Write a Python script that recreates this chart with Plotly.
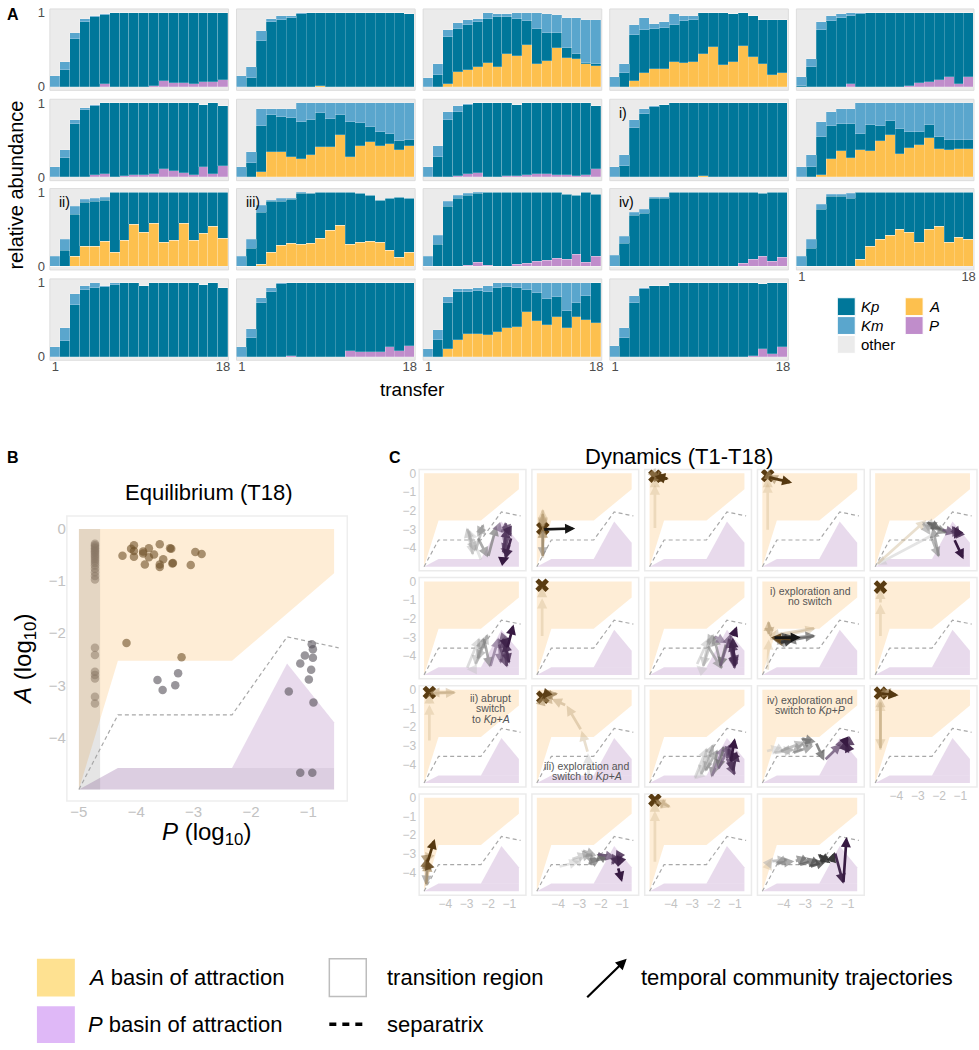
import plotly.graph_objects as go

W, H = 979, 1050
FONT = "Liberation Sans, Arial, Helvetica, sans-serif"

# ---------------- Panel A data: relative abundance per transfer ----------------
transfers = list(range(1, 19))
Z = [0, 0, 0, 0, 0, 0, 0, 0, 0, 0, 0, 0, 0, 0, 0, 0, 0, 0]

kp_01 = [0.00, 0.22, 0.65, 0.88, 0.94, 0.94, 1.00, 1.00, 1.00, 1.00, 0.99, 0.92, 0.95, 0.95, 0.96, 0.92, 0.93, 0.90]
km_01 = [0.15, 0.12, 0.08, 0.04, 0.02, 0.01, 0, 0, 0, 0, 0, 0, 0, 0, 0, 0, 0, 0]
a_01 = Z
p_01 = [0, 0, 0, 0, 0, 0.03, 0, 0, 0, 0, 0.01, 0.08, 0.05, 0.05, 0.04, 0.07, 0.06, 0.09]

kp_02 = [0.00, 0.12, 0.62, 0.87, 0.90, 0.93, 0.98, 1.00, 0.98, 1.00, 1.00, 1.00, 1.00, 0.99, 1.00, 0.99, 0.99, 0.98]
km_02 = [0.15, 0.14, 0.13, 0.05, 0.05, 0.03, 0.01, 0, 0, 0, 0, 0, 0, 0, 0, 0, 0, 0]
a_02 = [0, 0, 0, 0, 0, 0, 0, 0, 0.01, 0, 0, 0, 0, 0, 0, 0, 0, 0]
p_02 = Z

kp_03 = [0.00, 0.16, 0.63, 0.58, 0.61, 0.60, 0.59, 0.67, 0.50, 0.49, 0.33, 0.48, 0.38, 0.21, 0.13, 0.06, 0.02, 0.02]
km_03 = [0.12, 0.14, 0.09, 0.08, 0.06, 0.05, 0.08, 0.04, 0.04, 0.08, 0.10, 0.21, 0.25, 0.24, 0.41, 0.49, 0.58, 0.60]
a_03 = [0, 0, 0.04, 0.20, 0.23, 0.27, 0.32, 0.27, 0.44, 0.42, 0.56, 0.30, 0.35, 0.52, 0.39, 0.38, 0.30, 0.28]
p_03 = Z

kp_04 = [0.00, 0.18, 0.62, 0.58, 0.54, 0.55, 0.51, 0.57, 0.56, 0.55, 0.46, 0.70, 0.65, 0.44, 0.56, 0.60, 0.74, 0.72]
km_04 = [0.13, 0.12, 0.14, 0.17, 0.07, 0.08, 0.14, 0.07, 0.06, 0, 0, 0, 0, 0, 0, 0, 0, 0]
a_04 = [0, 0, 0.08, 0.18, 0.24, 0.24, 0.33, 0.32, 0.34, 0.44, 0.53, 0.29, 0.33, 0.55, 0.40, 0.30, 0.16, 0.18]
p_04 = Z

kp_05 = [0.01, 0.26, 0.76, 0.89, 0.93, 0.91, 0.98, 0.99, 0.99, 0.99, 0.99, 0.98, 0.94, 0.92, 0.90, 0.86, 0.96, 0.86]
km_05 = [0.12, 0.12, 0.11, 0.07, 0.05, 0.04, 0.01, 0, 0, 0, 0, 0, 0, 0, 0, 0, 0, 0]
a_05 = Z
p_05 = [0, 0, 0, 0, 0, 0.04, 0, 0, 0, 0, 0, 0.01, 0.05, 0.07, 0.09, 0.13, 0.03, 0.13]

kp_06 = [0.00, 0.25, 0.71, 0.90, 0.94, 0.95, 1.00, 0.99, 0.98, 0.98, 0.95, 0.89, 0.91, 0.94, 0.97, 0.84, 0.95, 0.82]
km_06 = [0.13, 0.11, 0.05, 0.03, 0.01, 0, 0, 0, 0, 0, 0, 0, 0, 0, 0, 0, 0, 0]
a_06 = Z
p_06 = [0, 0, 0, 0, 0.02, 0.04, 0, 0.01, 0.02, 0.02, 0.04, 0.10, 0.08, 0.05, 0.02, 0.13, 0.04, 0.14]

kp_07 = [0.00, 0.18, 0.62, 0.50, 0.47, 0.52, 0.50, 0.47, 0.46, 0.38, 0.28, 0.47, 0.30, 0.20, 0.19, 0.14, 0.12, 0.08]
km_07 = [0.13, 0.15, 0.24, 0.09, 0.10, 0.13, 0.26, 0.24, 0.14, 0.22, 0.16, 0.26, 0.28, 0.33, 0.40, 0.42, 0.52, 0.50]
a_07 = [0, 0, 0.06, 0.33, 0.34, 0.27, 0.24, 0.29, 0.40, 0.40, 0.56, 0.27, 0.42, 0.47, 0.41, 0.44, 0.36, 0.42]
p_07 = Z

kp_08 = [0.00, 0.27, 0.76, 0.87, 0.94, 0.94, 1.00, 1.00, 0.98, 0.96, 0.98, 0.96, 0.95, 0.97, 0.97, 0.98, 0.97, 0.86]
km_08 = [0.13, 0.15, 0.12, 0.07, 0.01, 0, 0, 0, 0, 0, 0, 0, 0, 0, 0, 0, 0, 0]
a_08 = Z
p_08 = [0, 0, 0, 0.01, 0.03, 0.05, 0, 0, 0.01, 0.01, 0.02, 0.04, 0.04, 0.02, 0.02, 0.01, 0.02, 0.10]

kp_09 = [0.00, 0.15, 0.66, 0.85, 0.94, 0.97, 1.00, 1.00, 1.00, 0.99, 1.00, 1.00, 1.00, 1.00, 1.00, 1.00, 1.00, 1.00]
km_09 = [0.13, 0.14, 0.11, 0.06, 0.01, 0, 0, 0, 0, 0, 0, 0, 0, 0, 0, 0, 0, 0]
a_09 = [0, 0, 0, 0, 0, 0, 0, 0, 0, 0.01, 0, 0, 0, 0, 0, 0, 0, 0]
p_09 = Z

kp_10 = [0.00, 0.13, 0.52, 0.44, 0.36, 0.46, 0.22, 0.35, 0.20, 0.19, 0.35, 0.22, 0.18, 0.18, 0.16, 0.14, 0.11, 0.11]
km_10 = [0.13, 0.16, 0.20, 0.20, 0.20, 0.21, 0.42, 0.30, 0.32, 0.25, 0.35, 0.39, 0.39, 0.30, 0.46, 0.50, 0.51, 0.51]
a_10 = [0, 0, 0.02, 0.24, 0.35, 0.25, 0.36, 0.35, 0.48, 0.56, 0.30, 0.39, 0.43, 0.52, 0.38, 0.36, 0.38, 0.38]
p_10 = Z

kp_11 = [0.00, 0.21, 0.57, 0.59, 0.61, 0.56, 0.81, 0.65, 0.44, 0.54, 0.42, 0.68, 0.65, 0.42, 0.65, 0.56, 0.46, 0.62]
km_11 = [0.13, 0.15, 0.11, 0.04, 0.04, 0.04, 0, 0, 0, 0, 0, 0, 0, 0, 0, 0, 0, 0]
a_11 = [0, 0, 0.13, 0.27, 0.27, 0.33, 0.19, 0.35, 0.56, 0.46, 0.58, 0.32, 0.35, 0.58, 0.35, 0.44, 0.54, 0.38]
p_11 = Z

kp_12 = [0.00, 0.24, 0.71, 0.68, 0.60, 0.60, 0.69, 0.68, 0.61, 0.52, 0.45, 0.71, 0.66, 0.61, 0.57, 0.71, 0.81, 0.73]
km_12 = [0.13, 0.12, 0.09, 0.02, 0.03, 0.01, 0.01, 0, 0, 0, 0, 0, 0, 0, 0, 0, 0, 0]
a_12 = [0, 0, 0.02, 0.19, 0.28, 0.30, 0.29, 0.30, 0.38, 0.48, 0.55, 0.29, 0.32, 0.34, 0.32, 0.21, 0.12, 0.19]
p_12 = Z

kp_13 = [0.00, 0.29, 0.81, 0.92, 0.95, 0.93, 0.99, 1.00, 1.00, 0.98, 0.96, 0.94, 0.92, 0.89, 0.88, 0.80, 0.94, 0.84]
km_13 = [0.13, 0.12, 0.07, 0.04, 0.02, 0.01, 0, 0, 0, 0, 0, 0, 0, 0, 0, 0, 0, 0]
a_13 = Z
p_13 = [0, 0, 0, 0, 0.01, 0.05, 0.01, 0, 0, 0.02, 0.04, 0.06, 0.08, 0.10, 0.09, 0.16, 0.05, 0.13]

kp_14 = [0.00, 0.30, 0.69, 0.71, 0.92, 0.92, 1.00, 1.00, 0.99, 0.99, 1.00, 0.99, 1.00, 0.96, 0.90, 0.85, 0.94, 0.87]
km_14 = [0.15, 0.10, 0.03, 0.05, 0.01, 0.01, 0, 0, 0, 0, 0, 0, 0, 0, 0, 0, 0, 0]
a_14 = Z
p_14 = [0, 0, 0, 0, 0, 0, 0, 0, 0, 0, 0, 0, 0, 0.04, 0.09, 0.13, 0.06, 0.12]

kp_15 = [0.00, 0.24, 0.76, 0.94, 0.94, 0.91, 0.90, 0.73, 0.64, 0.58, 0.51, 0.55, 0.68, 0.51, 0.46, 0.68, 0.61, 0.64]
km_15 = [0.13, 0.12, 0.07, 0.03, 0.03, 0.07, 0.01, 0, 0, 0, 0, 0, 0, 0, 0, 0, 0, 0]
a_15 = [0, 0, 0, 0, 0, 0, 0.09, 0.27, 0.36, 0.42, 0.49, 0.45, 0.32, 0.49, 0.54, 0.32, 0.39, 0.36]
p_15 = Z

kp_16 = [0.00, 0.21, 0.70, 0.90, 0.93, 0.94, 0.97, 1.00, 0.99, 0.96, 0.99, 0.99, 0.99, 0.99, 0.99, 0.97, 0.99, 0.93]
km_16 = [0.13, 0.18, 0.15, 0.05, 0.06, 0.02, 0.02, 0, 0, 0, 0, 0, 0, 0, 0, 0, 0, 0]
a_16 = Z
p_16 = Z

kp_17 = [0.00, 0.25, 0.72, 0.87, 0.98, 0.99, 1.00, 1.00, 1.00, 1.00, 1.00, 0.92, 0.93, 0.94, 0.93, 0.87, 0.92, 0.85]
km_17 = [0.13, 0.13, 0.07, 0.06, 0.01, 0, 0, 0, 0, 0, 0, 0, 0, 0, 0, 0, 0, 0]
a_17 = Z
p_17 = [0, 0, 0, 0, 0, 0.01, 0, 0, 0, 0, 0, 0.08, 0.07, 0.06, 0.07, 0.13, 0.08, 0.15]

kp_18 = [0.00, 0.22, 0.62, 0.66, 0.57, 0.58, 0.58, 0.60, 0.55, 0.53, 0.30, 0.38, 0.35, 0.27, 0.23, 0.19, 0.33, 0.53]
km_18 = [0.11, 0.14, 0.09, 0.04, 0.04, 0.04, 0.09, 0.07, 0.06, 0.07, 0.10, 0.14, 0.22, 0.20, 0.38, 0.27, 0.18, 0]
a_18 = [0, 0, 0.10, 0.22, 0.30, 0.31, 0.29, 0.33, 0.39, 0.40, 0.60, 0.48, 0.43, 0.53, 0.39, 0.54, 0.49, 0.46]
p_18 = Z

kp_19 = [0.00, 0.25, 0.73, 0.91, 0.95, 0.96, 1.00, 1.00, 1.00, 1.00, 1.00, 1.00, 1.00, 1.00, 0.98, 0.88, 0.96, 0.86]
km_19 = [0.14, 0.14, 0.09, 0.02, 0.01, 0, 0, 0, 0, 0, 0, 0, 0, 0, 0, 0, 0, 0]
a_19 = Z
p_19 = [0, 0, 0, 0, 0, 0, 0, 0, 0, 0, 0, 0, 0, 0, 0.01, 0.10, 0.04, 0.13]

KP = [kp_01, kp_02, kp_03, kp_04, kp_05, kp_06, kp_07, kp_08, kp_09, kp_10,
      kp_11, kp_12, kp_13, kp_14, kp_15, kp_16, kp_17, kp_18, kp_19]
KM = [km_01, km_02, km_03, km_04, km_05, km_06, km_07, km_08, km_09, km_10,
      km_11, km_12, km_13, km_14, km_15, km_16, km_17, km_18, km_19]
AA = [a_01, a_02, a_03, a_04, a_05, a_06, a_07, a_08, a_09, a_10,
      a_11, a_12, a_13, a_14, a_15, a_16, a_17, a_18, a_19]
PP = [p_01, p_02, p_03, p_04, p_05, p_06, p_07, p_08, p_09, p_10,
      p_11, p_12, p_13, p_14, p_15, p_16, p_17, p_18, p_19]
panel_tags = {8: "i)", 10: "ii)", 11: "iii)", 13: "iv)"}

# ---------------- basins / separatrix (log10 P, log10 A) ----------------
basinA_P = [-5.0, -0.55, -0.55, -2.33, -4.32, -5.0]
basinA_A = [0.0, 0.0, -0.85, -2.53, -2.53, -5.0]
basinP_tri_P = [-2.33, -1.37, -0.55, -0.55]
basinP_tri_A = [-4.59, -2.58, -3.71, -4.59]
basinP_band_P = [-5.0, -4.32, -0.55, -0.55]
basinP_band_A = [-5.0, -4.59, -4.59, -5.0]
sep_P = [-5.0, -4.32, -2.33, -1.37, -0.47]
sep_A = [-5.0, -3.57, -3.57, -2.07, -2.28]
nodetect_P = [-5.0, -4.63, -4.63, -5.0]
nodetect_A = [0.0, 0.0, -5.0, -5.0]

# ---------------- Panel B data: equilibrium (T18) ----------------
eqA_P = [-4.24, -4.09, -4.04, -4.04, -4.04, -3.88, -3.88, -3.85, -3.78, -3.78, -3.69, -3.59,
         -3.59, -3.59, -3.53, -3.41, -3.39, -3.37, -3.36, -3.05, -2.97, -2.86, -4.17, -3.21]
eqA_A = [-0.51, -0.38, -0.31, -0.53, -0.42, -0.43, -0.47, -0.68, -0.37, -0.54, -0.49, -0.29,
         -0.68, -0.73, -0.58, -0.37, -0.38, -0.66, -0.65, -0.69, -0.44, -0.48, -2.19, -2.46]
eqT_P = [-3.63, -3.54, -3.27, -3.32, -0.94, -0.92, -1.06, -0.92, -1.14, -0.95, -0.99, -1.34,
         -0.91, -1.14, -0.93]
eqT_A = [-2.90, -3.09, -2.77, -3.00, -2.21, -2.31, -2.43, -2.47, -2.58, -2.70, -2.89, -3.12,
         -3.33, -4.68, -4.68]
eq0_P = [-4.72, -4.72, -4.72, -4.72, -4.72, -4.72, -4.72, -4.72, -4.72, -4.72, -4.72, -4.72,
         -4.72, -4.72, -4.72, -4.72, -4.72, -4.72, -4.72, -4.72, -4.72, -4.72, -4.72, -4.72]
eq0_A = [-0.28, -0.31, -0.34, -0.37, -0.40, -0.43, -0.46, -0.50, -0.53, -0.57, -0.61, -0.65,
         -0.70, -0.76, -0.83, -0.90, -0.97, -2.28, -2.42, -2.74, -2.80, -2.87, -3.22, -3.35]

# ---------------- Panel C data: trajectories T1..T18 ----------------
cp_01 = [-2.3, -2.9, -2.7, -3.0, -2.6, -2.2, -2.5, -2.0, -1.6, -1.3, -1.1, -1.2, -1.0, -1.3, -1.1, -0.9, -1.2, -1.0]
ca_01 = [-4.7, -3.0, -4.4, -2.9, -4.2, -2.7, -3.4, -4.5, -2.8, -3.2, -4.5, -2.6, -3.3, -4.3, -2.9, -3.4, -4.6, -4.5]
cp_02 = [-4.72, -4.72, -4.72, -4.72, -4.72, -4.72, -4.72, -4.72, -4.72, -4.72, -4.72, -4.72, -4.72, -4.72, -4.72, -4.72, -4.72, -3.2]
ca_02 = [-4.6, -2.9, -1.9, -2.9, -2.1, -3.0, -4.5, -2.9, -3.0, -2.9, -3.0, -2.9, -3.0, -2.9, -3.0, -2.9, -3.0, -2.95]
cp_03 = [-4.75, -4.75, -4.75, -4.75, -4.6, -4.75, -4.75, -4.2, -4.75, -4.75, -4.75, -4.3, -4.75, -4.75, -4.75, -4.75, -4.1, -4.75]
ca_03 = [-3.0, -0.6, -0.2, -0.1, -0.3, -0.15, -0.1, -0.3, -0.15, -0.1, -0.2, -0.25, -0.1, -0.15, -0.1, -0.2, -0.3, -0.15]
cp_04 = [-4.75, -4.75, -4.75, -4.75, -4.75, -4.75, -4.4, -4.75, -4.75, -4.75, -4.75, -4.75, -4.75, -4.75, -4.75, -4.75, -4.75, -3.6]
ca_04 = [-3.1, -0.5, -0.2, -0.1, -0.15, -0.1, -0.3, -0.1, -0.2, -0.1, -0.15, -0.1, -0.2, -0.1, -0.15, -0.1, -0.2, -0.5]
cp_05 = [-2.3, -4.95, -2.6, -2.2, -2.8, -2.4, -2.0, -2.3, -1.6, -2.6, -1.9, -1.2, -1.4, -1.0, -1.2, -1.1, -1.3, -0.85]
ca_05 = [-3.3, -4.9, -2.5, -3.0, -2.6, -3.3, -4.5, -2.9, -3.2, -2.6, -3.0, -3.2, -2.8, -3.4, -2.9, -3.1, -3.5, -4.6]
cp_06 = [-2.8, -3.0, -2.4, -2.6, -2.0, -2.5, -2.2, -1.9, -1.5, -1.4, -1.2, -1.5, -1.1, -1.3, -1.0, -1.2, -1.1, -0.8]
ca_06 = [-4.7, -4.7, -3.0, -4.5, -2.8, -4.2, -3.0, -4.6, -3.0, -4.4, -2.9, -3.3, -4.6, -3.0, -4.4, -3.2, -3.6, -2.3]
cp_07 = [-4.75, -4.75, -4.75, -4.75, -4.75, -4.75, -4.75, -4.75, -4.75, -4.75, -4.75, -4.75, -4.75, -4.75, -4.75, -4.75, -4.75, -4.75]
ca_07 = [-3.0, -0.9, -0.3, -0.2, -0.15, -0.2, -0.1, -0.2, -0.15, -0.2, -0.1, -0.2, -0.15, -0.2, -0.1, -0.2, -0.15, -0.2]
cp_08 = [-2.6, -2.8, -2.2, -2.5, -2.0, -2.3, -1.6, -2.0, -1.4, -1.7, -1.2, -1.0, -1.3, -0.9, -1.2, -1.0, -1.1, -0.9]
ca_08 = [-4.7, -4.5, -3.0, -4.6, -2.8, -3.4, -4.7, -2.9, -3.3, -4.6, -2.8, -4.7, -3.0, -4.5, -3.2, -4.6, -3.0, -2.4]
cp_09 = [-4.75, -4.7, -2.5, -4.7, -4.72, -4.6, -3.8, -4.4, -3.4, -2.5, -3.9, -4.5, -3.6, -4.2, -3.5, -4.6, -4.5, -3.2]
ca_09 = [-4.8, -3.1, -2.5, -2.9, -2.1, -3.0, -3.3, -3.2, -3.0, -2.9, -3.2, -3.1, -2.9, -3.3, -3.1, -3.0, -3.0, -3.0]
cp_10 = [-4.75, -4.75, -4.75, -4.75, -4.75, -4.75, -4.75, -4.75, -4.75, -4.75, -4.75, -4.75, -4.75, -4.75, -4.75, -4.75, -4.75, -4.75]
ca_10 = [-3.0, -1.2, -0.4, -0.3, -0.35, -0.3, -0.25, -0.3, -0.35, -0.3, -0.25, -0.3, -0.35, -0.3, -0.25, -0.3, -0.35, -0.3]
cp_11 = [-4.75, -4.75, -4.75, -3.5, -4.75, -4.75, -4.75, -4.75, -4.75, -4.75, -4.75, -4.75, -4.75, -4.75, -4.75, -4.75, -4.75, -4.75]
ca_11 = [-2.8, -0.8, -0.2, -0.15, -0.15, -0.1, -0.2, -0.15, -0.1, -0.2, -0.15, -0.1, -0.2, -0.15, -0.1, -0.2, -0.15, -0.1]
cp_12 = [-2.56, -2.6, -2.9, -3.6, -4.3, -4.77, -4.7, -4.0, -4.75, -4.7, -4.75, -4.6, -4.75, -4.7, -4.75, -4.6, -4.75, -4.7]
ca_12 = [-4.8, -3.4, -2.2, -0.85, -0.5, -0.6, -0.3, -0.2, -0.4, -0.3, -0.5, -0.4, -0.3, -0.5, -0.4, -0.3, -0.5, -0.4]
cp_13 = [-2.5, -2.9, -2.3, -2.6, -2.0, -2.4, -1.8, -2.1, -1.5, -1.8, -1.2, -1.4, -1.0, -1.3, -1.1, -0.9, -1.2, -1.0]
ca_13 = [-4.4, -4.8, -3.1, -4.6, -2.9, -4.4, -3.2, -4.7, -3.0, -4.3, -2.9, -3.6, -4.6, -3.1, -4.4, -3.3, -3.9, -2.6]
cp_14 = [-4.85, -4.1, -4.5, -3.5, -4.2, -3.0, -3.6, -2.6, -3.2, -2.5, -2.1, -1.3, -1.1, -0.9, -1.2, -0.9, -1.1, -1.0]
ca_14 = [-3.3, -3.1, -3.4, -3.2, -3.3, -2.8, -3.4, -3.0, -2.6, -2.8, -3.8, -2.9, -3.2, -2.8, -3.0, -3.3, -2.8, -3.1]
cp_15 = [-4.75, -4.75, -4.75, -4.75, -4.75, -4.75, -4.75, -4.2, -4.75, -4.75, -4.75, -4.75, -4.75, -4.75, -4.75, -4.75, -4.75, -3.9]
ca_15 = [-3.3, -0.6, -3.2, -0.4, -0.2, -0.1, -0.15, -0.2, -0.1, -0.15, -0.2, -0.1, -0.15, -0.2, -0.1, -0.15, -0.2, -0.3]
cp_16 = [-4.9, -4.85, -4.9, -4.8, -4.9, -4.85, -4.9, -4.8, -4.9, -4.85, -4.8, -4.9, -4.85, -4.9, -4.8, -4.9, -4.85, -4.5]
ca_16 = [-4.8, -3.4, -3.6, -3.2, -3.5, -3.3, -4.7, -3.4, -3.2, -3.6, -3.3, -3.5, -3.2, -3.4, -3.6, -3.3, -3.5, -2.2]
cp_17 = [-4.0, -3.0, -3.4, -2.6, -2.4, -2.9, -2.2, -2.6, -2.0, -1.7, -2.2, -1.3, -1.5, -1.1, -1.3, -1.0, -1.2, -1.0]
ca_17 = [-3.7, -3.4, -3.3, -3.0, -3.5, -2.8, -3.1, -3.6, -3.2, -3.3, -3.0, -3.2, -3.6, -3.0, -3.4, -3.1, -3.7, -4.5]
cp_18 = [-4.75, -4.75, -4.75, -4.0, -4.75, -4.75, -4.75, -4.75, -4.75, -4.75, -4.75, -4.75, -4.75, -4.75, -4.75, -4.75, -4.75, -4.75]
ca_18 = [-3.5, -0.7, -0.2, -0.5, -0.1, -0.15, -0.2, -0.1, -0.15, -0.2, -0.1, -0.15, -0.2, -0.1, -0.15, -0.2, -0.1, -0.15]
cp_19 = [-4.7, -4.6, -4.7, -4.5, -4.6, -3.8, -4.4, -3.5, -2.9, -3.3, -2.4, -2.8, -2.0, -2.4, -1.8, -1.6, -1.2, -1.05]
ca_19 = [-3.6, -3.3, -3.5, -3.2, -3.4, -3.3, -3.5, -3.4, -3.2, -3.6, -3.3, -3.7, -3.4, -3.0, -3.5, -2.9, -4.6, -2.1]

CP = [cp_01, cp_02, cp_03, cp_04, cp_05, cp_06, cp_07, cp_08, cp_09, cp_10,
      cp_11, cp_12, cp_13, cp_14, cp_15, cp_16, cp_17, cp_18, cp_19]
CA = [ca_01, ca_02, ca_03, ca_04, ca_05, ca_06, ca_07, ca_08, ca_09, ca_10,
      ca_11, ca_12, ca_13, ca_14, ca_15, ca_16, ca_17, ca_18, ca_19]
# cells where the community sits at P below detection (pile-up of arrowheads)
xmark_cell = [2, 3, 4, 7, 10, 11, 12, 15, 18]
xmark_P = [-4.72, -4.75, -4.75, -4.75, -4.75, -4.75, -4.72, -4.75, -4.75]
xmark_A = [-2.95, -0.15, -0.12, -0.2, -0.3, -0.15, -0.4, -0.18, -0.12]

# ---------------- styling ----------------
COL = {"Kp": "#00779A", "Km": "#5AA6CD", "A": "#FDC04E", "P": "#C08DCB"}
ORANGE_FILL = "rgba(252,196,120,0.30)"
PURPLE_FILL = "rgba(170,120,185,0.27)"
PURPLE_BAND_B = "rgba(150,105,165,0.33)"
TICK_GRAY = "#C2C2C2"


def fx(v):
    return v / W


def fy(v):
    return 1 - v / H


def names(n):
    return ("xaxis" if n == 1 else f"xaxis{n}", "yaxis" if n == 1 else f"yaxis{n}",
            "x" if n == 1 else f"x{n}", "y" if n == 1 else f"y{n}")


def label(text, x, y, size, color="black", xanchor="center", yanchor="middle", angle=0):
    return dict(text=text, xref="paper", yref="paper", x=fx(x), y=fy(y), xanchor=xanchor, yanchor=yanchor,
                textangle=angle, showarrow=False, font=dict(size=size, color=color))


fig = go.Figure()
axes = {}
shapes = []
ann = []

# ---------------- Panel A ----------------
A_COLS = [(50, 229), (237, 416), (424, 603), (611, 790), (798, 976)]
A_ROWS = [(5, 87), (96, 178), (186, 268), (277, 359)]
for k in range(19):
    r, c = divmod(k, 5)
    n = k + 1
    xa, ya, xr, yr = names(n)
    x0, x1 = A_COLS[c]
    y0, y1 = A_ROWS[r]
    show_x = (r == 3) or (r == 2 and c == 4)
    show_y = (c == 0)
    axes[xa] = dict(domain=[fx(x0), fx(x1)], range=[0.45, 18.55], anchor=yr, showgrid=False,
                    zeroline=False, showline=False, ticks="", tickvals=[1, 18] if show_x else [],
                    showticklabels=show_x, ticklabelstandoff=-3, tickfont=dict(size=13, color="#4D4D4D"))
    axes[ya] = dict(domain=[fy(y1), fy(y0)], range=[-0.05, 1.05], anchor=xr, showgrid=False,
                    zeroline=False, showline=False, ticks="", tickvals=[0, 1] if show_y else [],
                    showticklabels=show_y, ticklabelstandoff=4, tickfont=dict(size=13, color="#4D4D4D"))
    shapes.append(dict(type="rect", xref=f"{xr} domain", yref=f"{yr} domain", x0=0, x1=1, y0=0, y1=1,
                       fillcolor="#EBEBEB", line=dict(color="#DDDDDD", width=1), layer="below"))
    for nm, ser in (("A", AA[k]), ("P", PP[k]), ("Kp", KP[k]), ("Km", KM[k])):
        fig.add_trace(go.Bar(x=transfers, y=ser, width=1.0, xaxis=xr, yaxis=yr, showlegend=False,
                             marker=dict(color=COL[nm], line=dict(color="rgba(255,255,255,0.35)", width=0.6)),
                             hoverinfo="skip"))
    if k in panel_tags:
        ann.append(label(panel_tags[k], x0 + 7, y0 + 14, 14, xanchor="left"))

ann.append(label("relative abundance", 16, 182, 20, angle=-90))
ann.append(label("transfer", 413, 388, 19))

# legend of panel A
leg_items = [("Kp", 839, 296, "<i>Kp</i>"), ("Km", 839, 315, "<i>Km</i>"), (None, 839, 334, "other"),
             ("A", 907, 296, "<i>A</i>"), ("P", 907, 315, "<i>P</i>")]
for key, lx, ly, lab in leg_items:
    shapes.append(dict(type="rect", xref="paper", yref="paper", x0=fx(lx), x1=fx(lx + 18), y0=fy(ly + 18), y1=fy(ly),
                       fillcolor=COL[key] if key else "#EBEBEB", line=dict(color="white", width=1)))
    ann.append(label(lab, lx + 22, ly + 9, 15, xanchor="left"))


def poly(P, A, fill, xr, yr):
    fig.add_trace(go.Scatter(x=P + [P[0]], y=A + [A[0]], fill="toself", mode="lines", line=dict(width=0),
                             fillcolor=fill, xaxis=xr, yaxis=yr, showlegend=False, hoverinfo="skip"))


def sep(xr, yr, w=1.1):
    fig.add_trace(go.Scatter(x=sep_P, y=sep_A, mode="lines", line=dict(color="#A8A8A8", width=w, dash="4px,3px"),
                             xaxis=xr, yaxis=yr, showlegend=False, hoverinfo="skip"))


# ---------------- Panel B ----------------
xa, ya, xr, yr = names(20)
axes[xa] = dict(domain=[fx(67), fx(348)], range=[-5.21, -0.32], anchor=yr, showgrid=False, zeroline=False,
                showline=False, ticks="", tickvals=[-5, -4, -3, -2, -1], tickfont=dict(size=15, color=TICK_GRAY))
axes[ya] = dict(domain=[fy(803), fy(516)], range=[-5.22, 0.25], anchor=xr, showgrid=False, zeroline=False,
                showline=False, ticks="", tickvals=[0, -1, -2, -3, -4], tickfont=dict(size=15, color=TICK_GRAY))
shapes.append(dict(type="rect", xref=f"{xr} domain", yref=f"{yr} domain", x0=0, x1=1, y0=0, y1=1,
                   line=dict(color="#EEEEEE", width=1.5), layer="below"))
poly(basinA_P, basinA_A, ORANGE_FILL, xr, yr)
poly(basinP_tri_P, basinP_tri_A, PURPLE_FILL, xr, yr)
poly(basinP_band_P, basinP_band_A, PURPLE_BAND_B, xr, yr)
poly(nodetect_P, nodetect_A, "rgba(110,110,110,0.18)", xr, yr)
sep(xr, yr, 1.2)
fig.add_trace(go.Scatter(x=eq0_P, y=eq0_A, mode="markers", marker=dict(size=8.5, color="rgba(135,118,100,0.5)"),
                         xaxis=xr, yaxis=yr, showlegend=False, hoverinfo="skip"))
fig.add_trace(go.Scatter(x=eqA_P, y=eqA_A, mode="markers", marker=dict(size=8.5, color="rgba(110,80,40,0.6)"),
                         xaxis=xr, yaxis=yr, showlegend=False, hoverinfo="skip"))
fig.add_trace(go.Scatter(x=eqT_P, y=eqT_A, mode="markers", marker=dict(size=8.5, color="rgba(85,80,88,0.6)"),
                         xaxis=xr, yaxis=yr, showlegend=False, hoverinfo="skip"))
ann.append(label("Equilibrium (T18)", 209, 492, 22))
ann.append(label("<i>P</i> (log<sub>10</sub>)", 207, 836, 24))
ann.append(label("<i>A</i> (log<sub>10</sub>)", 25, 660, 24, angle=-90))


# ---------------- Panel C ----------------
def in_poly(x, y, px, py):
    inside = False
    j = len(px) - 1
    for i in range(len(px)):
        if ((py[i] > y) != (py[j] > y)) and (x < (px[j] - px[i]) * (y - py[i]) / (py[j] - py[i]) + px[i]):
            inside = not inside
        j = i
    return inside


RAMP = {"A": ((214, 188, 145, 0.30), (85, 56, 16, 1.0)),
        "P": ((198, 182, 208, 0.35), (55, 26, 66, 1.0)),
        "T": ((205, 205, 205, 0.40), (22, 22, 22, 1.0))}


def seg_color(p, a, t):
    if in_poly(p, a, basinA_P, basinA_A):
        reg = "A"
    elif p > -1.6:
        reg = "P"
    else:
        reg = "T"
    c0, c1 = RAMP[reg]
    v = [c0[i] + (c1[i] - c0[i]) * t for i in range(4)]
    return f"rgba({int(v[0])},{int(v[1])},{int(v[2])},{v[3]:.2f})"


C_COLS = [(420, 527), (533, 640), (646, 753), (759, 866), (872, 979)]
C_ROWS = [(469, 571), (578, 680), (687, 789), (796, 898)]
for k in range(19):
    r, c = divmod(k, 5)
    n = 21 + k
    xa, ya, xr, yr = names(n)
    x0, x1 = C_COLS[c]
    y0, y1 = C_ROWS[r]
    show_x = (r == 3) or (r == 2 and c == 4)
    show_y = (c == 0)
    axes[xa] = dict(domain=[fx(x0), fx(x1)], range=[-5.23, -0.22], anchor=yr, showgrid=False,
                    zeroline=False, showline=False, ticks="", tickvals=[-4, -3, -2, -1] if show_x else [],
                    showticklabels=show_x, tickfont=dict(size=12, color=TICK_GRAY))
    axes[ya] = dict(domain=[fy(y1), fy(y0)], range=[-5.21, 0.21], anchor=xr, showgrid=False, zeroline=False,
                    showline=False, ticks="", tickvals=[0, -1, -2, -3, -4] if show_y else [],
                    showticklabels=show_y, ticklabelstandoff=2, tickfont=dict(size=12, color=TICK_GRAY))
    shapes.append(dict(type="rect", xref=f"{xr} domain", yref=f"{yr} domain", x0=0, x1=1, y0=0, y1=1,
                       line=dict(color="#EBEBEB", width=1.5), layer="below"))
    poly(basinA_P, basinA_A, ORANGE_FILL, xr, yr)
    poly(basinP_tri_P, basinP_tri_A, PURPLE_FILL, xr, yr)
    poly(basinP_band_P, basinP_band_A, PURPLE_FILL, xr, yr)
    sep(xr, yr, 1.2)
    P, A = CP[k], CA[k]
    nseg = len(P) - 1
    for i in range(nseg):
        dx, dy = P[i + 1] - P[i], A[i + 1] - A[i]
        if abs(dx) < 0.08 and abs(dy) < 0.08:
            continue
        t = (i + 1) / nseg
        ann.append(dict(x=P[i + 1], y=A[i + 1], ax=P[i], ay=A[i], xref=xr, yref=yr, axref=xr, ayref=yr,
                        showarrow=True, arrowhead=2, arrowsize=0.75, arrowwidth=2.7,
                        arrowcolor=seg_color(P[i + 1], A[i + 1], t), text="", standoff=0, startstandoff=0))
    if (k + 1) in xmark_cell:
        j = xmark_cell.index(k + 1)
        fig.add_trace(go.Scatter(x=[xmark_P[j]], y=[xmark_A[j]], mode="markers",
                                 marker=dict(symbol="x", size=12, color="#5A3C12", line=dict(width=0)),
                                 xaxis=xr, yaxis=yr, showlegend=False, hoverinfo="skip"))

ann.append(label("Dynamics (T1-T18)", 680, 456, 22))
c_notes = [("i) exploration and", 812, 592), ("no switch", 812, 602),
           ("ii) abrupt", 492, 699), ("switch", 492, 709), ("to <i>Kp+A</i>", 492, 720),
           ("iii) exploration and", 588, 768), ("switch to <i>Kp+A</i>", 588, 778),
           ("iv) exploration and", 812, 701), ("switch to <i>Kp+P</i>", 812, 711)]
for txt, tx, ty in c_notes:
    ann.append(label(txt, tx, ty, 10.5, color="#555555"))

# panel letters
for lab, lx, ly in (("A", 5, 11), ("B", 5, 457), ("C", 388, 457)):
    ann.append(label(f"<b>{lab}</b>", lx, ly, 16, xanchor="left"))

# ---------------- bottom legend ----------------
shapes.append(dict(type="rect", xref="paper", yref="paper", x0=fx(37), x1=fx(75), y0=fy(1000), y1=fy(962),
                   fillcolor="#FEE191", line=dict(width=0)))
shapes.append(dict(type="rect", xref="paper", yref="paper", x0=fx(37), x1=fx(75), y0=fy(1047), y1=fy(1010),
                   fillcolor="#DFB8F7", line=dict(width=0)))
shapes.append(dict(type="rect", xref="paper", yref="paper", x0=fx(330), x1=fx(367), y0=fy(1000), y1=fy(962),
                   fillcolor="white", line=dict(color="#BDBDBD", width=1.5)))
shapes.append(dict(type="line", xref="paper", yref="paper", x0=fx(330), x1=fx(368), y0=fy(1028), y1=fy(1028),
                   line=dict(color="black", width=3.5, dash="7px,6px")))
ann.append(dict(x=fx(628), y=fy(962), xref="paper", yref="paper", ax=-41, ay=40, showarrow=True, arrowhead=2,
                arrowsize=1, arrowwidth=2.2, arrowcolor="black", text=""))
for txt, tx, ty in (("<i>A</i> basin of attraction", 86, 981), ("<i>P</i> basin of attraction", 86, 1028),
                    ("transition region", 386, 981), ("separatrix", 386, 1028),
                    ("temporal community trajectories", 640, 981)):
    ann.append(label(txt, tx, ty, 22, xanchor="left"))

fig.update_layout(width=W, height=H, margin=dict(l=0, r=0, t=0, b=0), paper_bgcolor="white",
                  plot_bgcolor="rgba(0,0,0,0)", barmode="stack", bargap=0, showlegend=False,
                  font=dict(family=FONT, color="black"), shapes=shapes, annotations=ann, **axes)
fig.write_html("out.html", config={"displayModeBar": False},
               post_script="document.body.style.margin='0px';document.body.style.padding='0px';")
